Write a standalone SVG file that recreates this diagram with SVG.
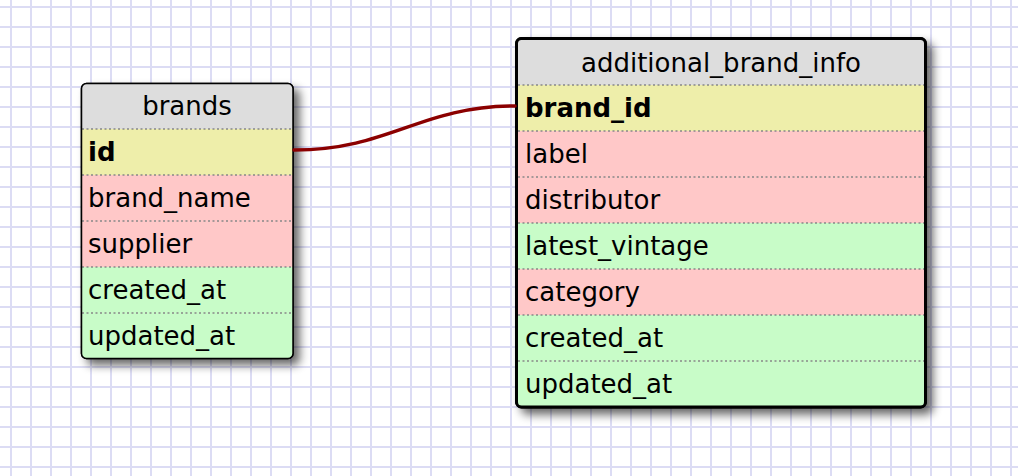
<svg xmlns="http://www.w3.org/2000/svg" width="1018" height="476" viewBox="0 0 1018 476">
  <defs>
    <pattern id="grid" x="0" y="0" width="20" height="20" patternUnits="userSpaceOnUse">
      <rect width="20" height="20" fill="#ffffff"/>
      <rect x="10" y="0" width="2" height="20" fill="#dcdcf4"/>
      <rect x="0" y="6" width="20" height="2" fill="#dcdcf4"/>
    </pattern>
    <filter id="shadow" x="-15%" y="-15%" width="140%" height="140%">
      <feGaussianBlur in="SourceAlpha" stdDeviation="5"/>
      <feOffset dx="6" dy="6" result="b"/>
      <feComponentTransfer><feFuncA type="linear" slope="0.6"/></feComponentTransfer>
      <feMerge><feMergeNode/><feMergeNode in="SourceGraphic"/></feMerge>
    </filter>
    <clipPath id="clipBrands"><rect x="81.5" y="83.5" width="211.5" height="275" rx="5"/></clipPath>
    <clipPath id="clipInfo"><rect x="516.5" y="38.5" width="409" height="368.5" rx="5"/></clipPath>
  </defs>
  <style>
    text { font-family: "DejaVu Sans", Verdana, sans-serif; font-size: 26px; fill: #000; }
    .title { text-anchor: middle; }
    .key { font-weight: bold; }
    .hdr { fill: #dddddd; }
    .pk { fill: #eeeeaa; }
    .req { fill: #ffc8c8; }
    .opt { fill: #c8fcc8; }
    .sep { stroke: #888888; stroke-width: 1.5; stroke-dasharray: 2 2.5; }
    .frame { fill: #ffffff; stroke: #000000; }
    .edge { fill: none; stroke: #8b0000; stroke-width: 3.5; stroke-linecap: round; }
  </style>

  <rect x="0" y="0" width="1018" height="476" fill="url(#grid)"/>

  <g id="brands">
    <rect class="frame" x="81.5" y="83.5" width="211.5" height="275" rx="5" filter="url(#shadow)" stroke-width="1.5"/>
    <g clip-path="url(#clipBrands)">
      <rect class="hdr" x="81" y="83" width="213" height="46"/>
      <rect class="pk" x="81" y="129" width="213" height="46"/>
      <rect class="req" x="81" y="175" width="213" height="46"/>
      <rect class="req" x="81" y="221" width="213" height="46"/>
      <rect class="opt" x="81" y="267" width="213" height="46"/>
      <rect class="opt" x="81" y="313" width="213" height="46"/>
    </g>
    <line class="sep" x1="82" y1="129" x2="293" y2="129"/>
    <line class="sep" x1="82" y1="175" x2="293" y2="175"/>
    <line class="sep" x1="82" y1="221" x2="293" y2="221"/>
    <line class="sep" x1="82" y1="267" x2="293" y2="267"/>
    <line class="sep" x1="82" y1="313" x2="293" y2="313"/>
    <rect x="81.5" y="83.5" width="211.5" height="275" rx="5" fill="none" stroke="#000" stroke-width="1.5"/>
    <text class="title" x="187" y="115">brands</text>
    <text class="key" x="88" y="161">id</text>
    <text x="88" y="207">brand_name</text>
    <text x="88" y="253">supplier</text>
    <text x="88" y="299">created_at</text>
    <text x="88" y="345">updated_at</text>
  </g>

  <g id="additional_brand_info">
    <rect class="frame" x="516.5" y="38.5" width="409" height="368.5" rx="5" filter="url(#shadow)" stroke-width="3"/>
    <g clip-path="url(#clipInfo)">
      <rect class="hdr" x="516" y="38" width="410" height="47"/>
      <rect class="pk" x="516" y="85" width="410" height="46"/>
      <rect class="req" x="516" y="131" width="410" height="46"/>
      <rect class="req" x="516" y="177" width="410" height="46"/>
      <rect class="opt" x="516" y="223" width="410" height="46"/>
      <rect class="req" x="516" y="269" width="410" height="46"/>
      <rect class="opt" x="516" y="315" width="410" height="46"/>
      <rect class="opt" x="516" y="361" width="410" height="47"/>
    </g>
    <line class="sep" x1="518" y1="85" x2="924" y2="85"/>
    <line class="sep" x1="518" y1="131" x2="924" y2="131"/>
    <line class="sep" x1="518" y1="177" x2="924" y2="177"/>
    <line class="sep" x1="518" y1="223" x2="924" y2="223"/>
    <line class="sep" x1="518" y1="269" x2="924" y2="269"/>
    <line class="sep" x1="518" y1="315" x2="924" y2="315"/>
    <line class="sep" x1="518" y1="361" x2="924" y2="361"/>
    <rect x="516.5" y="38.5" width="409" height="368.5" rx="5" fill="none" stroke="#000" stroke-width="3"/>
    <text class="title" x="721" y="72">additional_brand_info</text>
    <text class="key" x="525" y="117">brand_id</text>
    <text x="525" y="163">label</text>
    <text x="525" y="209">distributor</text>
    <text x="525" y="255">latest_vintage</text>
    <text x="525" y="301">category</text>
    <text x="525" y="347">created_at</text>
    <text x="525" y="393">updated_at</text>
  </g>

  <g id="connectors">
    <path class="edge" d="M 294 150 C 390 150, 420 106, 515 106"/>
  </g>
</svg>
